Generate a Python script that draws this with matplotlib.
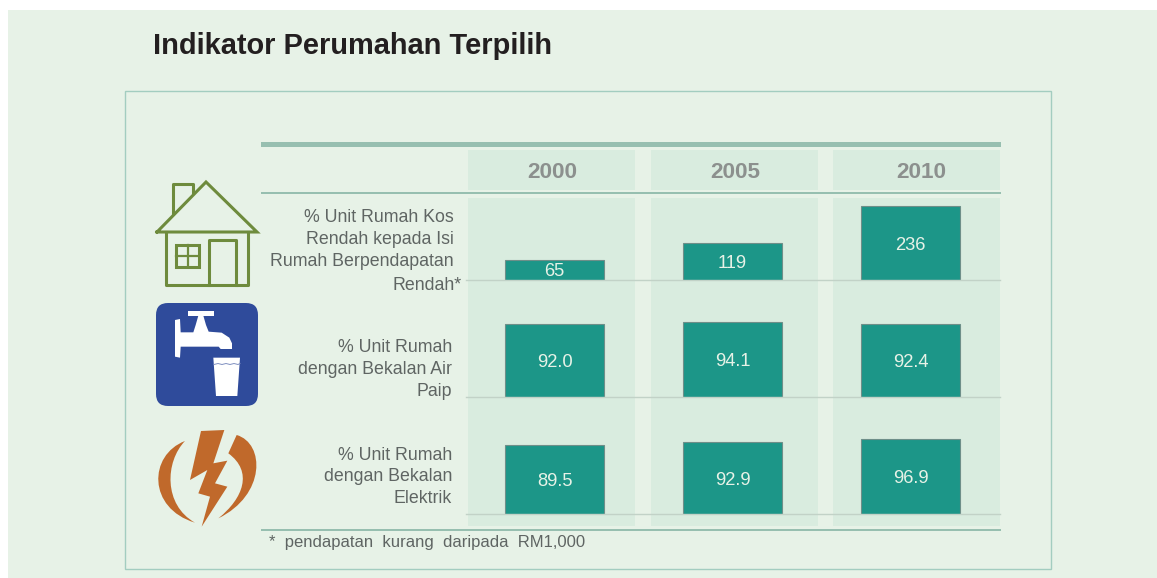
import matplotlib
matplotlib.use('Agg')
import matplotlib.pyplot as plt
from matplotlib.patches import Rectangle, Polygon, FancyBboxPatch, PathPatch
from matplotlib.path import Path

plt.rcParams['font.family'] = ['Liberation Sans', 'DejaVu Sans']

years = ['2000', '2005', '2010']
row1 = [65, 119, 236]
row2 = [92.0, 94.1, 92.4]
row3 = [89.5, 92.9, 96.9]
row1_txt = ['65', '119', '236']
row2_txt = ['92.0', '94.1', '92.4']
row3_txt = ['89.5', '92.9', '96.9']

W, H = 1157, 578
bg = '#E7F2E7'
panel = '#D9ECDF'
rule = '#97BFB0'
teal = '#1C9688'
grey = '#5F6563'

fig = plt.figure(figsize=(W/100, H/100), dpi=100, facecolor='white')
ax = fig.add_axes([0, 0, 1, 1])
ax.set_xlim(0, W)
ax.set_ylim(H, 0)
ax.axis('off')


def rect(x0, y0, x1, y1, **kw):
    kw.setdefault('lw', 0)
    ax.add_patch(Rectangle((x0, y0), x1-x0, y1-y0, **kw))


# backgrounds
rect(8, 10, W, H, fc=bg)
rect(124.5, 91, 1051, 569, fc='none', ec='#A3CDC0', lw=1.0)
for x0, x1 in [(468, 635), (651, 818), (833, 1000)]:
    rect(x0, 150, x1, 190, fc=panel)
    rect(x0, 198, x1, 526, fc=panel)
rect(261, 142, 1001, 147, fc=rule)
rect(261, 191.5, 1001, 194, fc=rule)
rect(261, 529, 1001, 531, fc=rule)

ax.text(153, 46, 'Indikator Perumahan Terpilih', fontsize=20.85, fontweight='bold',
        color='#231F20', va='center', ha='left')
for x, y in zip([552, 735, 921], years):
    ax.text(x, 172.5, y, fontsize=16.2, fontweight='bold', color='#8C908E',
            ha='center', va='center')


# one small axes per row, x in categories, y in row units
def row_axes(vals, txt, base, top, scale):
    a = fig.add_axes([465.5/W, 1-base/H, 534/W, (base-top)/H])
    a.patch.set_alpha(0)
    a.set_xlim(-0.5, 2.5)
    a.set_ylim(0, (base-top)/scale)
    a.bar(range(3), vals, width=98.5/178, color=teal, edgecolor='#6E8F89', linewidth=0.8)
    for i, v in enumerate(vals):
        a.annotate(txt[i], (i, v/2), xytext=(0, -1.5), textcoords='offset points', color='#E7F2E7',
                   fontsize=13.2, ha='center', va='center')
    for s in ['top', 'left', 'right']:
        a.spines[s].set_visible(False)
    a.spines['bottom'].set_color('#C2D2C7')
    a.spines['bottom'].set_linewidth(1.0)
    a.set_xticks([])
    a.set_yticks([])
    return a


row_axes(row1, row1_txt, 280, 200, 0.3136)
row_axes(row2, row2_txt, 397, 315, 0.795)
row_axes(row3, row3_txt, 514, 432, 0.77)

# row labels
labels = [
    (454, 218, '% Unit Rumah Kos'), (454, 239.5, 'Rendah kepada Isi'),
    (454, 261, 'Rumah Berpendapatan'), (462, 286, 'Rendah*'),
    (452, 347.5, '% Unit Rumah'), (452, 369.5, 'dengan Bekalan Air'), (452, 391.5, 'Paip'),
    (452, 455.5, '% Unit Rumah'), (452, 476.5, 'dengan Bekalan'), (452, 498.5, 'Elektrik'),
]
for x, y, s in labels:
    ax.text(x, y, s, fontsize=12.8, color=grey, ha='right', va='center')

ax.text(269, 543, '*  pendapatan  kurang  daripada  RM1,000', fontsize=12, color=grey,
        ha='left', va='center')

# house icon
green = '#6E8B3D'
lw = 2.2
ax.plot([157, 206, 257, 157], [232, 182, 232, 232], color=green, lw=lw, solid_joinstyle='miter')
ax.plot([173, 173, 193, 193], [213, 184, 184, 193], color=green, lw=lw)
ax.plot([166, 166, 248, 248], [232, 285, 285, 232], color=green, lw=lw)
ax.plot([209, 209, 236, 236], [285, 240, 240, 285], color=green, lw=lw)
rect(176, 245, 199, 267, fc='none', ec=green, lw=lw)
ax.plot([187.5, 187.5], [245, 267], color=green, lw=1.6)
ax.plot([176, 199], [256, 256], color=green, lw=1.6)


# icon outlines are traced in 3x zoom coordinates
def z(points):
    return [(130 + px/3, 295 + py/3) for px, py in points]


# tap icon
blue = '#2F4B9B'
ax.add_patch(FancyBboxPatch((168, 315), 78, 79, boxstyle='round,pad=12', fc=blue, ec='none'))
ax.add_patch(Polygon(z([(135, 75), (150, 72), (152, 112), (190, 112), (197, 90), (205, 62), (220, 62),
                        (228, 90), (236, 110), (275, 113), (298, 128), (306, 145), (306, 162),
                        (272, 162), (266, 155), (152, 155), (150, 188), (135, 185)]), fc='white', lw=0))
rect(188, 311, 214, 316, fc='white')
ax.add_patch(Polygon(z([(250, 188), (330, 188), (322, 303), (258, 303)]), fc='white', lw=0))
ax.plot([214, 218, 222, 226, 230, 234, 238, 240], [364.5, 363.5, 364.5, 363.5, 364.5, 363.5, 364.5, 363.5],
        color='#8090C0', lw=0.7)

# electricity icon
orange = '#C0692B'
ax.add_patch(Polygon(z([(213, 408), (283, 405), (250, 505), (292, 497), (255, 565), (292, 575), (215, 695),
                        (240, 605), (205, 595), (232, 525), (180, 555)]), fc=orange, lw=0))
curve = [Path.MOVETO, Path.CURVE4, Path.CURVE4, Path.CURVE4, Path.CURVE4, Path.CURVE4, Path.CURVE4]
ax.add_patch(PathPatch(Path(z([(165, 438), (55, 480), (52, 640), (195, 683), (100, 630), (105, 500), (165, 438)]),
                            curve), fc=orange, lw=0))
ax.add_patch(PathPatch(Path(z([(320, 420), (405, 445), (408, 600), (265, 670), (340, 610), (370, 530), (295, 475),
                               (320, 420)]),
                            curve + [Path.LINETO]), fc=orange, lw=0))

fig.savefig('out.png', dpi=100, facecolor='white')
